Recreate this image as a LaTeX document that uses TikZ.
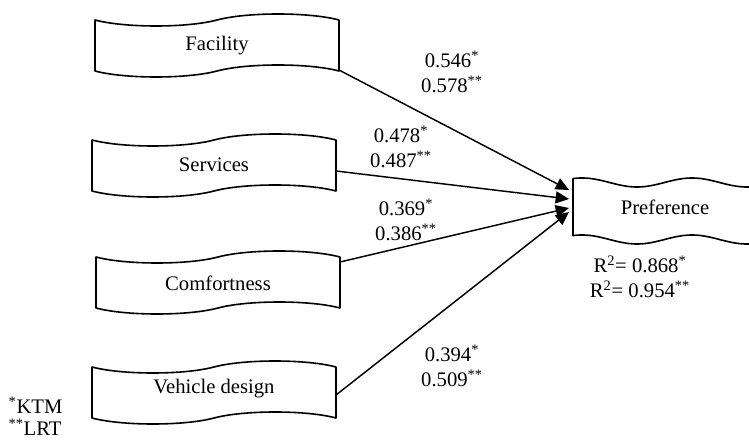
\documentclass[tikz,border=0pt]{standalone}
\usepackage{fontspec}
\setmainfont{Liberation Serif}
\usetikzlibrary{arrows.meta}

\begin{document}
\begin{tikzpicture}[x=0.75pt,y=-0.75pt,
    every node/.style={font=\fontsize{15.5}{18.5}\selectfont},
    tape/.style={line width=1.2pt,line join=round},
    coef/.style={align=center}]
      \useasboundingbox (0,0) rectangle (749,441);
      % left boxes
      \foreach \l/\t in {95/20,92/140,96/257,92/367}
        \draw[tape] (\l,\t)
          .. controls ({\l+30},{\t+8}) and ({\l+92},{\t+8}) .. ({\l+122},\t)
          .. controls ({\l+152},{\t-8}) and ({\l+214},{\t-8}) .. ({\l+244},\t)
          -- ({\l+244},{\t+51})
          .. controls ({\l+214},{\t+43}) and ({\l+152},{\t+43}) .. ({\l+122},{\t+51})
          .. controls ({\l+92},{\t+59}) and ({\l+30},{\t+59}) .. (\l,{\t+51})
          -- cycle;
      % right box
      \draw[tape]
        plot[domain=752:573,samples=80] (\x,{182.5-4.5*cos((\x-582)*3.2727)})
        -- plot[domain=573:752,samples=80] (\x,{239.5-4.5*cos((\x-582)*3.2727)});
      \draw
        (217,46) node (fac){Facility}
        (214,165) node (ser){Services}
        (218,283) node (com){Comfortness}
        (214,389) node (veh){Vehicle design}
        (665,207) node (pref){Preference};
      \coordinate (fac-r) at (339,70);
      \coordinate (ser-r) at (336,171);
      \coordinate (com-r) at (340,262);
      \coordinate (veh-r) at (336,395);
      \coordinate (pref-a) at (569,190);
      \coordinate (pref-b) at (569,199);
      \coordinate (pref-c) at (569,208);
      \coordinate (pref-d) at (569,212);
      \begin{scope}[-{Triangle[length=10pt,width=9pt]},line width=1.1pt]
        \draw (fac-r) to (pref-a);
        \draw (ser-r) to (pref-b);
        \draw (com-r) to (pref-c);
        \draw (veh-r) to (pref-d);
      \end{scope}
      \node[coef] (c-fac) at (452,72) {0.546\textsuperscript{*}\\0.578\textsuperscript{**}};
      \node[coef] (c-ser) at (401,147) {0.478\textsuperscript{*}\\0.487\textsuperscript{**}};
      \node[coef] (c-com) at (406,220) {0.369\textsuperscript{*}\\0.386\textsuperscript{**}};
      \node[coef] (c-veh) at (452,366) {0.394\textsuperscript{*}\\0.509\textsuperscript{**}};
      \node[coef] (rsq) at (640,277) {R\textsuperscript{2}= 0.868\textsuperscript{*}\\R\textsuperscript{2}= 0.954\textsuperscript{**}};
      \node[align=left,anchor=west,inner sep=1pt,font=\fontsize{15.5}{16.5}\selectfont] (note) at (7,416) {\textsuperscript{*}KTM\\\textsuperscript{**}LRT};
    \end{tikzpicture}
\end{document}
